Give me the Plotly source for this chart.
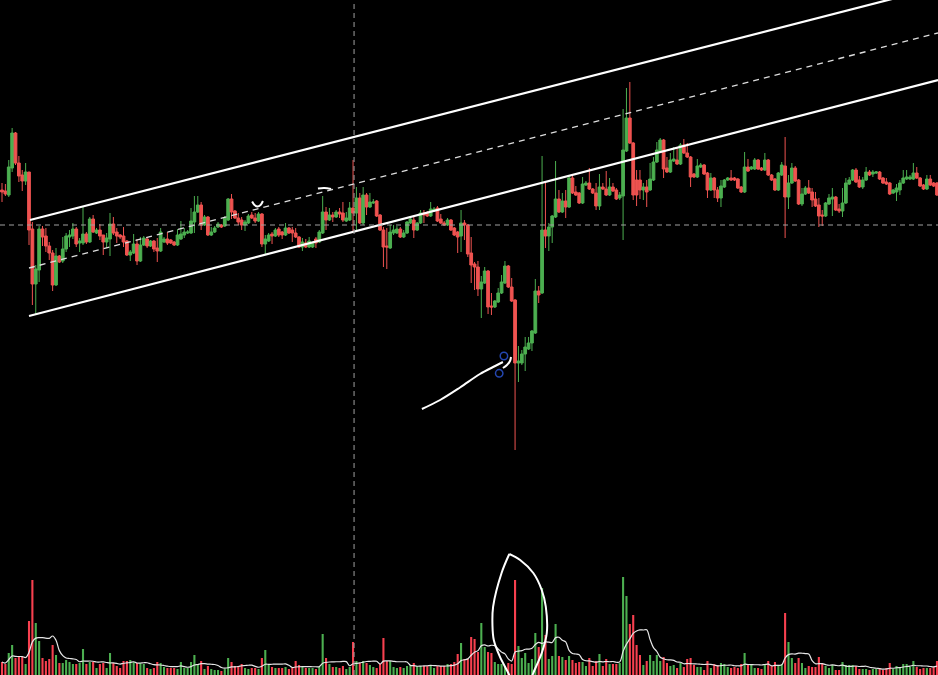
import plotly.graph_objects as go
import pandas as pd

# ---- candle data (price units) ----
opens = [410,409,405,432,467,437,425,419,428,371,316,330,371,364,354,347,315,344,339,351,
         363,364,371,357,357,366,358,381,367,370,365,358,361,376,368,365,364,359,345,347,
         356,339,355,361,354,359,352,349,358,361,360,358,355,361,365,367,367,378,388,395,
         375,383,365,368,373,375,374,380,401,389,382,380,375,377,385,382,379,386,356,359,
         366,364,371,368,365,372,370,367,363,353,357,353,353,361,358,367,388,380,385,383,
         388,387,379,380,392,387,402,377,405,393,397,399,385,370,354,352,367,367,371,363,
         367,377,380,370,377,387,387,384,389,392,381,377,375,380,372,368,364,377,375,347,
         336,333,311,317,329,294,293,298,307,317,334,313,300,237,237,246,251,257,267,309,
         307,370,364,373,383,401,388,399,393,422,408,407,397,415,417,411,407,394,413,411,
         405,413,410,402,404,449,482,457,420,420,410,413,410,420,438,448,460,432,428,439,
         440,436,455,447,443,426,423,433,435,427,410,422,410,402,413,420,422,422,421,413,
         408,433,431,431,440,432,430,440,425,421,410,425,434,403,417,432,420,396,406,412,
         408,401,395,385,384,396,401,403,391,389,397,416,420,430,420,413,420,428,426,427,
         428,422,418,417,407,408,410,417,421,421,421,427,422,415,411,421,417,417]
highs = [417,416,440,472,468,444,430,437,428,378,335,374,374,372,358,350,352,345,363,367,
         370,377,373,362,393,368,383,385,372,376,365,367,387,383,372,366,373,360,350,366,
         361,363,364,363,360,360,362,372,363,368,361,359,371,379,372,370,392,404,404,398,
         385,384,373,374,378,376,384,402,406,390,387,383,380,386,388,387,388,387,365,367,
         368,372,373,369,377,373,373,372,364,362,361,363,358,363,370,404,393,392,388,390,
         392,398,388,398,440,413,407,413,407,407,401,400,386,373,372,375,375,374,373,370,
         379,382,383,378,390,390,389,398,393,394,386,379,382,381,373,369,390,380,376,363,
         338,339,324,333,330,307,300,312,325,339,335,322,301,254,250,263,263,270,321,314,
         444,417,377,385,439,410,407,410,425,426,414,408,423,419,432,412,417,426,417,429,
         422,417,412,408,491,512,518,458,430,430,417,420,437,443,458,462,461,443,447,453,
         452,457,461,457,444,427,441,437,436,428,427,423,413,420,421,423,430,423,422,414,
         448,441,434,442,441,433,447,441,426,422,428,438,463,425,437,434,421,412,414,420,
         412,408,402,390,398,406,412,404,396,412,422,423,431,432,424,423,433,430,430,429,
         429,423,422,418,411,416,420,430,430,425,437,433,423,416,425,425,418,418]
lows = [398,404,403,428,435,418,409,415,355,295,286,318,354,348,340,309,314,337,337,348,
        353,361,353,348,355,356,357,367,366,360,345,352,344,365,357,361,353,344,339,346,
        335,338,354,352,353,348,338,348,357,355,356,354,354,360,362,366,366,367,387,370,
        374,364,364,367,372,372,373,379,381,381,375,370,369,376,381,377,378,353,346,358,
        356,363,363,361,364,366,358,362,352,349,352,352,352,352,357,366,370,379,378,382,
        382,378,378,379,368,368,376,375,385,392,396,383,369,333,331,351,365,366,362,362,
        366,376,362,369,376,377,383,383,388,378,376,374,374,369,364,347,348,360,343,317,
        310,304,282,316,286,285,292,297,306,316,312,298,150,218,235,229,250,249,266,297,
        306,352,349,357,382,387,387,382,392,406,404,396,396,414,410,406,390,390,410,404,
        404,408,400,400,360,448,456,400,394,401,400,393,409,419,437,447,422,427,427,438,
        435,435,446,442,413,422,422,432,425,402,409,402,398,393,412,419,419,419,411,407,
        407,428,430,430,430,429,429,424,419,409,409,424,362,391,416,418,395,394,405,406,
        393,393,373,374,383,395,384,389,387,383,396,415,419,417,412,411,419,424,423,426,
        420,416,415,405,406,399,405,416,420,420,420,421,413,410,410,414,413,404]
closes = [408,406,433,467,437,424,419,428,370,316,331,371,363,354,347,315,344,338,351,364,
          365,371,356,359,366,358,381,368,370,364,358,362,376,367,364,363,358,345,348,356,
          339,355,362,354,359,351,349,368,361,357,357,355,365,366,368,368,379,388,395,375,
          383,365,368,372,376,373,382,401,388,382,378,375,378,384,382,379,386,356,361,365,
          364,370,365,365,372,367,367,363,353,358,353,359,357,357,368,388,380,385,383,388,
          386,380,382,392,387,402,377,405,393,398,398,384,370,353,353,368,370,371,363,367,
          378,381,370,377,387,385,384,391,391,379,377,375,380,370,365,363,377,375,346,335,
          333,311,318,329,293,293,299,307,318,334,313,299,237,239,246,253,257,269,309,305,
          370,364,373,384,401,388,399,393,422,407,405,397,416,417,411,407,394,413,411,405,
          413,409,401,405,450,482,457,405,405,410,413,408,421,438,450,460,431,428,440,441,
          436,455,447,443,423,423,434,435,426,410,422,410,402,414,420,422,420,420,412,408,
          433,429,433,440,431,430,440,425,420,410,427,435,403,417,432,419,396,406,412,407,
          400,394,384,384,397,402,403,390,389,397,417,420,430,418,413,420,428,425,428,428,
          421,417,416,406,410,412,417,422,423,423,427,422,414,411,421,415,414,405]
volumes = [13,11,22,30,17,18,18,11,54,95,52,34,17,14,16,30,20,12,12,15,
           13,11,11,12,26,11,13,13,7,11,12,7,22,12,9,7,14,14,15,13,
           12,12,11,7,6,7,13,12,8,7,7,7,6,13,7,7,13,20,11,14,
           6,9,6,5,5,4,6,17,13,9,9,11,7,6,7,7,6,17,25,10,
           8,7,7,7,8,6,7,14,10,8,7,7,7,6,8,
           41,17,11,8,8,7,9,6,8,33,14,12,14,12,10,8,7,11,37,14,
           14,8,7,8,7,9,10,12,9,9,9,9,10,7,9,9,9,11,11,13,
           21,32,16,16,38,36,23,52,28,23,22,13,11,11,9,12,11,95,29,17,
           22,12,16,42,28,87,40,16,19,51,19,18,15,19,15,12,13,13,9,17,
           9,14,21,9,16,11,11,11,12,
           98,79,51,60,30,20,10,14,20,14,20,14,18,12,9,10,7,12,8,16,
           17,10,8,8,5,14,7,11,10,12,11,8,7,8,7,11,22,10,10,7,
           7,6,11,14,9,13,10,11,62,33,17,12,17,12,7,9,8,8,18,12,
           9,7,10,5,5,13,10,10,10,9,6,6,6,5,6,6,7,5,7,12,
           6,9,7,11,11,8,14,8,6,7,7,7,8,14]

N = len(closes)
idx = list(range(N))
vol_ma = pd.Series(volumes).rolling(8, min_periods=1).mean().tolist()

GREEN = "#4caf50"
RED = "#ef5350"
VRED = "#f7404f"
vol_colors = [GREEN if c >= o else VRED for o, c in zip(opens, closes)]

# ---- drawing anchors (index, price) ----
upper_x, upper_y = [8.3, 277.3], [380, 612.8]
lower_x, lower_y = [8.0, 277.3], [284, 520]
mid_x, mid_y = [8.0, 277.3], [332, 567]
hline_price = 375
vline_idx = 104.3
curve_x = [124.4, 129.8, 135.7, 141.6, 146.1, 148.4]
curve_y = [191, 200, 212.5, 226, 234, 238]
hook_x = [148.4, 149.6, 150.5, 150.8]
hook_y = [232, 235, 239, 243]
circ_centers = [(148.7, 244), (147.3, 226.7)]
u_x, u_y = [74.1, 74.8, 75.7, 76.6, 77.3], [398.5, 395, 393.5, 395, 399]
tick_x, tick_y = [93.6, 95.5, 97.5], [411.5, 412, 411]
leaf_left_x = [150.5, 150.0, 147.5, 145.7, 145.3, 145.5, 148.0, 150.3]
leaf_left_y = [-2, 2, 18.3, 35, 50, 68.3, 102, 121]
leaf_right_x = [150.3, 153.5, 157.4, 159.9, 161.1, 161.4, 159.9, 157.4, 157.0]
leaf_right_y = [121, 115, 102, 85, 68.3, 42, 22, 2, -2]

fig = go.Figure()

fig.add_trace(go.Bar(x=idx, y=volumes, marker=dict(color=vol_colors, line=dict(width=0)),
                     width=0.62, yaxis="y2", hoverinfo="skip", showlegend=False))
fig.add_trace(go.Scatter(x=idx, y=vol_ma, mode="lines", yaxis="y2",
                         line=dict(color="#e6e6e6", width=1.2, shape="spline"),
                         hoverinfo="skip", showlegend=False))
fig.add_trace(go.Scatter(x=leaf_left_x, y=leaf_left_y, mode="lines", yaxis="y2",
                         line=dict(color="white", width=2, shape="spline"),
                         hoverinfo="skip", showlegend=False))
fig.add_trace(go.Scatter(x=leaf_right_x, y=leaf_right_y, mode="lines", yaxis="y2",
                         line=dict(color="white", width=2, shape="spline"),
                         hoverinfo="skip", showlegend=False))

fig.add_trace(go.Candlestick(x=idx, open=opens, high=highs, low=lows, close=closes,
                             increasing=dict(line=dict(color=GREEN, width=1), fillcolor=GREEN),
                             decreasing=dict(line=dict(color=RED, width=1), fillcolor=RED),
                             whiskerwidth=0, hoverinfo="skip", showlegend=False))

for xs, ys, w in [(curve_x, curve_y, 2), (hook_x, hook_y, 2), (u_x, u_y, 2), (tick_x, tick_y, 2)]:
    fig.add_trace(go.Scatter(x=xs, y=ys, mode="lines",
                             line=dict(color="white", width=w, shape="spline"),
                             hoverinfo="skip", showlegend=False))

shapes = [
    dict(type="line", xref="x", yref="y", x0=upper_x[0], y0=upper_y[0], x1=upper_x[1], y1=upper_y[1],
         line=dict(color="white", width=2.2)),
    dict(type="line", xref="x", yref="y", x0=lower_x[0], y0=lower_y[0], x1=lower_x[1], y1=lower_y[1],
         line=dict(color="white", width=2.2)),
    dict(type="line", xref="x", yref="y", x0=mid_x[0], y0=mid_y[0], x1=mid_x[1], y1=mid_y[1],
         line=dict(color="#dddddd", width=1.3, dash="6px,5px")),
    dict(type="line", xref="paper", yref="y", x0=0, x1=1, y0=hline_price, y1=hline_price,
         line=dict(color="#a0a0a0", width=1, dash="5px,4px")),
    dict(type="line", xref="x", yref="paper", x0=vline_idx, x1=vline_idx, y0=0, y1=1,
         line=dict(color="#a0a0a0", width=1, dash="5px,4px")),
]
for cx, cy in circ_centers:
    shapes.append(dict(type="circle", xref="x", yref="y", x0=cx - 1.1, x1=cx + 1.1,
                       y0=cy - 3.7, y1=cy + 3.7, line=dict(color="#2446b0", width=1.5)))

fig.update_layout(
    width=938, height=675,
    margin=dict(l=0, r=0, t=0, b=0),
    paper_bgcolor="black", plot_bgcolor="black",
    showlegend=False, barmode="overlay",
    boxgap=0.1, boxgroupgap=0.1,
    xaxis=dict(range=[-0.5925, 277.296], visible=False, rangeslider=dict(visible=False),
               showgrid=False, zeroline=False),
    yaxis=dict(range=[-75, 600], visible=False, showgrid=False, zeroline=False),
    yaxis2=dict(range=[0, 675], overlaying="y", visible=False, showgrid=False, zeroline=False),
    shapes=shapes,
    hovermode=False,
)

fig.write_html("out.html", config={"displayModeBar": False},
               post_script="document.body.style.margin='0';document.body.style.background='black';")
